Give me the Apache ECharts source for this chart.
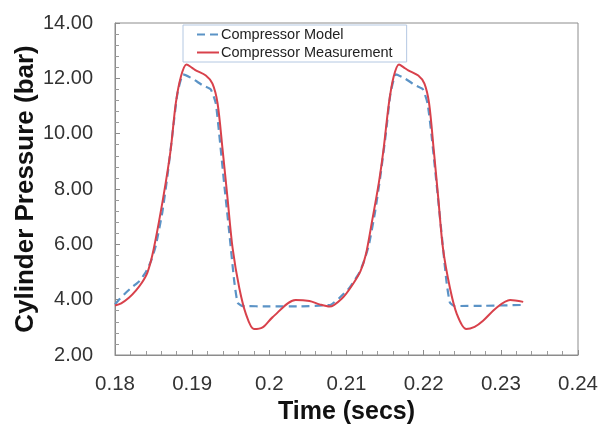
<!DOCTYPE html>
<html>
<head>
<meta charset="utf-8">
<script src="https://cdn.jsdelivr.net/npm/echarts@6/dist/echarts.min.js"></script>
<style>
html,body{margin:0;padding:0;background:#fff;}
#chart{width:602px;height:430px;}
</style>
</head>
<body>
<div id="chart"></div>
<script>
var xTicks = [0.18, 0.19, 0.2, 0.21, 0.22, 0.23, 0.24];
var yTicks = [2, 4, 6, 8, 10, 12, 14];

var modelTime = [0.1800, 0.1806, 0.1814, 0.1822, 0.1832, 0.1840, 0.1847, 0.1853, 0.18614, 0.1868, 0.18745, 0.18809, 0.18883, 0.19004, 0.19133, 0.19241, 0.19306, 0.1935, 0.19413, 0.1948, 0.19545, 0.19589, 0.1965, 0.2000, 0.2040, 0.2070, 0.2080, 0.2091, 0.2104, 0.2117, 0.2123, 0.2129, 0.2137, 0.2144, 0.2151, 0.2157, 0.2164, 0.2176, 0.2189, 0.2199, 0.2205, 0.2210, 0.22165, 0.2223, 0.22295, 0.2234, 0.2240, 0.2280, 0.2331];
var modelPressure = [3.83, 4.02, 4.25, 4.45, 4.68, 5.0, 5.42, 5.97, 7.17, 8.48, 10.0, 11.45, 12.14, 11.99, 11.75, 11.6, 11.1, 10.0, 8.24, 6.45, 4.67, 3.89, 3.77, 3.76, 3.76, 3.79, 3.82, 4.07, 4.43, 5.0, 5.42, 5.97, 7.17, 8.48, 10.0, 11.45, 12.14, 11.99, 11.75, 11.6, 11.1, 10.0, 8.24, 6.45, 4.67, 3.89, 3.77, 3.78, 3.81];

var measTime = [0.1800, 0.1808, 0.1818, 0.1827, 0.1835, 0.1842, 0.18485, 0.1857, 0.18658, 0.18722, 0.18788, 0.18853, 0.18926, 0.1900, 0.19047, 0.19177, 0.19263, 0.19329, 0.19394, 0.19459, 0.19524, 0.1961, 0.19697, 0.1980, 0.19913, 0.2004, 0.2034, 0.2052, 0.2065, 0.2078, 0.2095, 0.2108, 0.2118, 0.2125, 0.2133, 0.2142, 0.2148, 0.2155, 0.2161, 0.2168, 0.2175, 0.2180, 0.2193, 0.2201, 0.2207, 0.2213, 0.2219, 0.2225, 0.2234, 0.2243, 0.2255, 0.2266, 0.2277, 0.22944, 0.2312, 0.2329];
var measPressure = [3.79, 3.87, 4.07, 4.33, 4.62, 4.98, 5.62, 6.82, 8.24, 9.43, 11.1, 12.05, 12.5, 12.38, 12.29, 12.1, 11.81, 11.1, 9.43, 7.64, 5.86, 4.43, 3.48, 2.94, 3.0, 3.36, 3.99, 3.95, 3.83, 3.75, 4.07, 4.55, 5.02, 5.62, 6.82, 8.24, 9.43, 11.1, 12.05, 12.5, 12.38, 12.29, 12.1, 11.81, 11.1, 9.43, 7.64, 5.86, 4.43, 3.48, 2.94, 3.02, 3.24, 3.71, 3.99, 3.92];

function zip(a, b) { return a.map(function (v, i) { return [v, b[i]]; }); }

var chart = echarts.init(document.getElementById('chart'), null, {renderer: 'canvas'});
var font = '"Liberation Sans", Arial, sans-serif';
chart.setOption({
  animation: false,
  backgroundColor: '#ffffff',
  grid: {left: 115, right: 24, top: 23, bottom: 71, show: true, borderColor: '#8c8c8c', borderWidth: 1},
  legend: {
    orient: 'vertical',
    left: 183, top: 25,
    backgroundColor: '#ffffff',
    borderColor: '#b4c8e2', borderWidth: 1, borderRadius: 0,
    padding: [2, 14, 2, 13],
    itemWidth: 22, itemHeight: 10, itemGap: 3,
    itemStyle: {opacity: 0},
    textStyle: {fontFamily: font, fontSize: 14.5, color: '#222', padding: [0, 0, 0, -3]},
    data: ['Compressor Model', 'Compressor Measurement']
  },
  xAxis: {
    type: 'value', min: xTicks[0], max: xTicks[xTicks.length - 1], interval: 0.01,
    name: 'Time (secs)', nameLocation: 'middle', nameGap: 45, nameMoveOverlap: false,
    nameTextStyle: {fontFamily: font, fontSize: 25, fontWeight: 'bold', color: '#111'},
    axisLine: {show: true, lineStyle: {color: '#8c8c8c', width: 1}},
    axisTick: {show: true, inside: true, length: 5, lineStyle: {color: '#8c8c8c'}},
    minorTick: {show: true, splitNumber: 5, length: 4, lineStyle: {color: '#9a9a9a'}},
    splitLine: {show: false},
    axisLabel: {fontFamily: font, fontSize: 20.5, color: '#333', margin: 19,
      formatter: function (v) { return String(parseFloat(v.toFixed(2))); }}
  },
  yAxis: {
    type: 'value', min: yTicks[0], max: yTicks[yTicks.length - 1], interval: 2,
    name: 'Cylinder Pressure (bar)', nameLocation: 'middle', nameGap: 76, nameMoveOverlap: false,
    nameTextStyle: {fontFamily: font, fontSize: 26, fontWeight: 'bold', color: '#111'},
    axisLine: {show: true, lineStyle: {color: '#8c8c8c', width: 1}},
    axisTick: {show: true, inside: true, length: 5, lineStyle: {color: '#8c8c8c'}},
    minorTick: {show: true, splitNumber: 5, length: 4, lineStyle: {color: '#9a9a9a'}},
    splitLine: {show: false},
    axisLabel: {fontFamily: font, fontSize: 20, color: '#333', margin: 22,
      formatter: function (v) { return v.toFixed(2); }}
  },
  series: [
    {
      name: 'Compressor Model', type: 'line', data: zip(modelTime, modelPressure),
      symbol: 'none', smooth: 0.15, z: 2,
      lineStyle: {color: '#5b93c6', width: 2.2, type: [8, 5]},
      itemStyle: {color: '#5b93c6'}
    },
    {
      name: 'Compressor Measurement', type: 'line', data: zip(measTime, measPressure),
      symbol: 'none', smooth: 0.3, z: 3,
      lineStyle: {color: '#d8414b', width: 2},
      itemStyle: {color: '#d8414b'}
    }
  ]
});
</script>
</body>
</html>
